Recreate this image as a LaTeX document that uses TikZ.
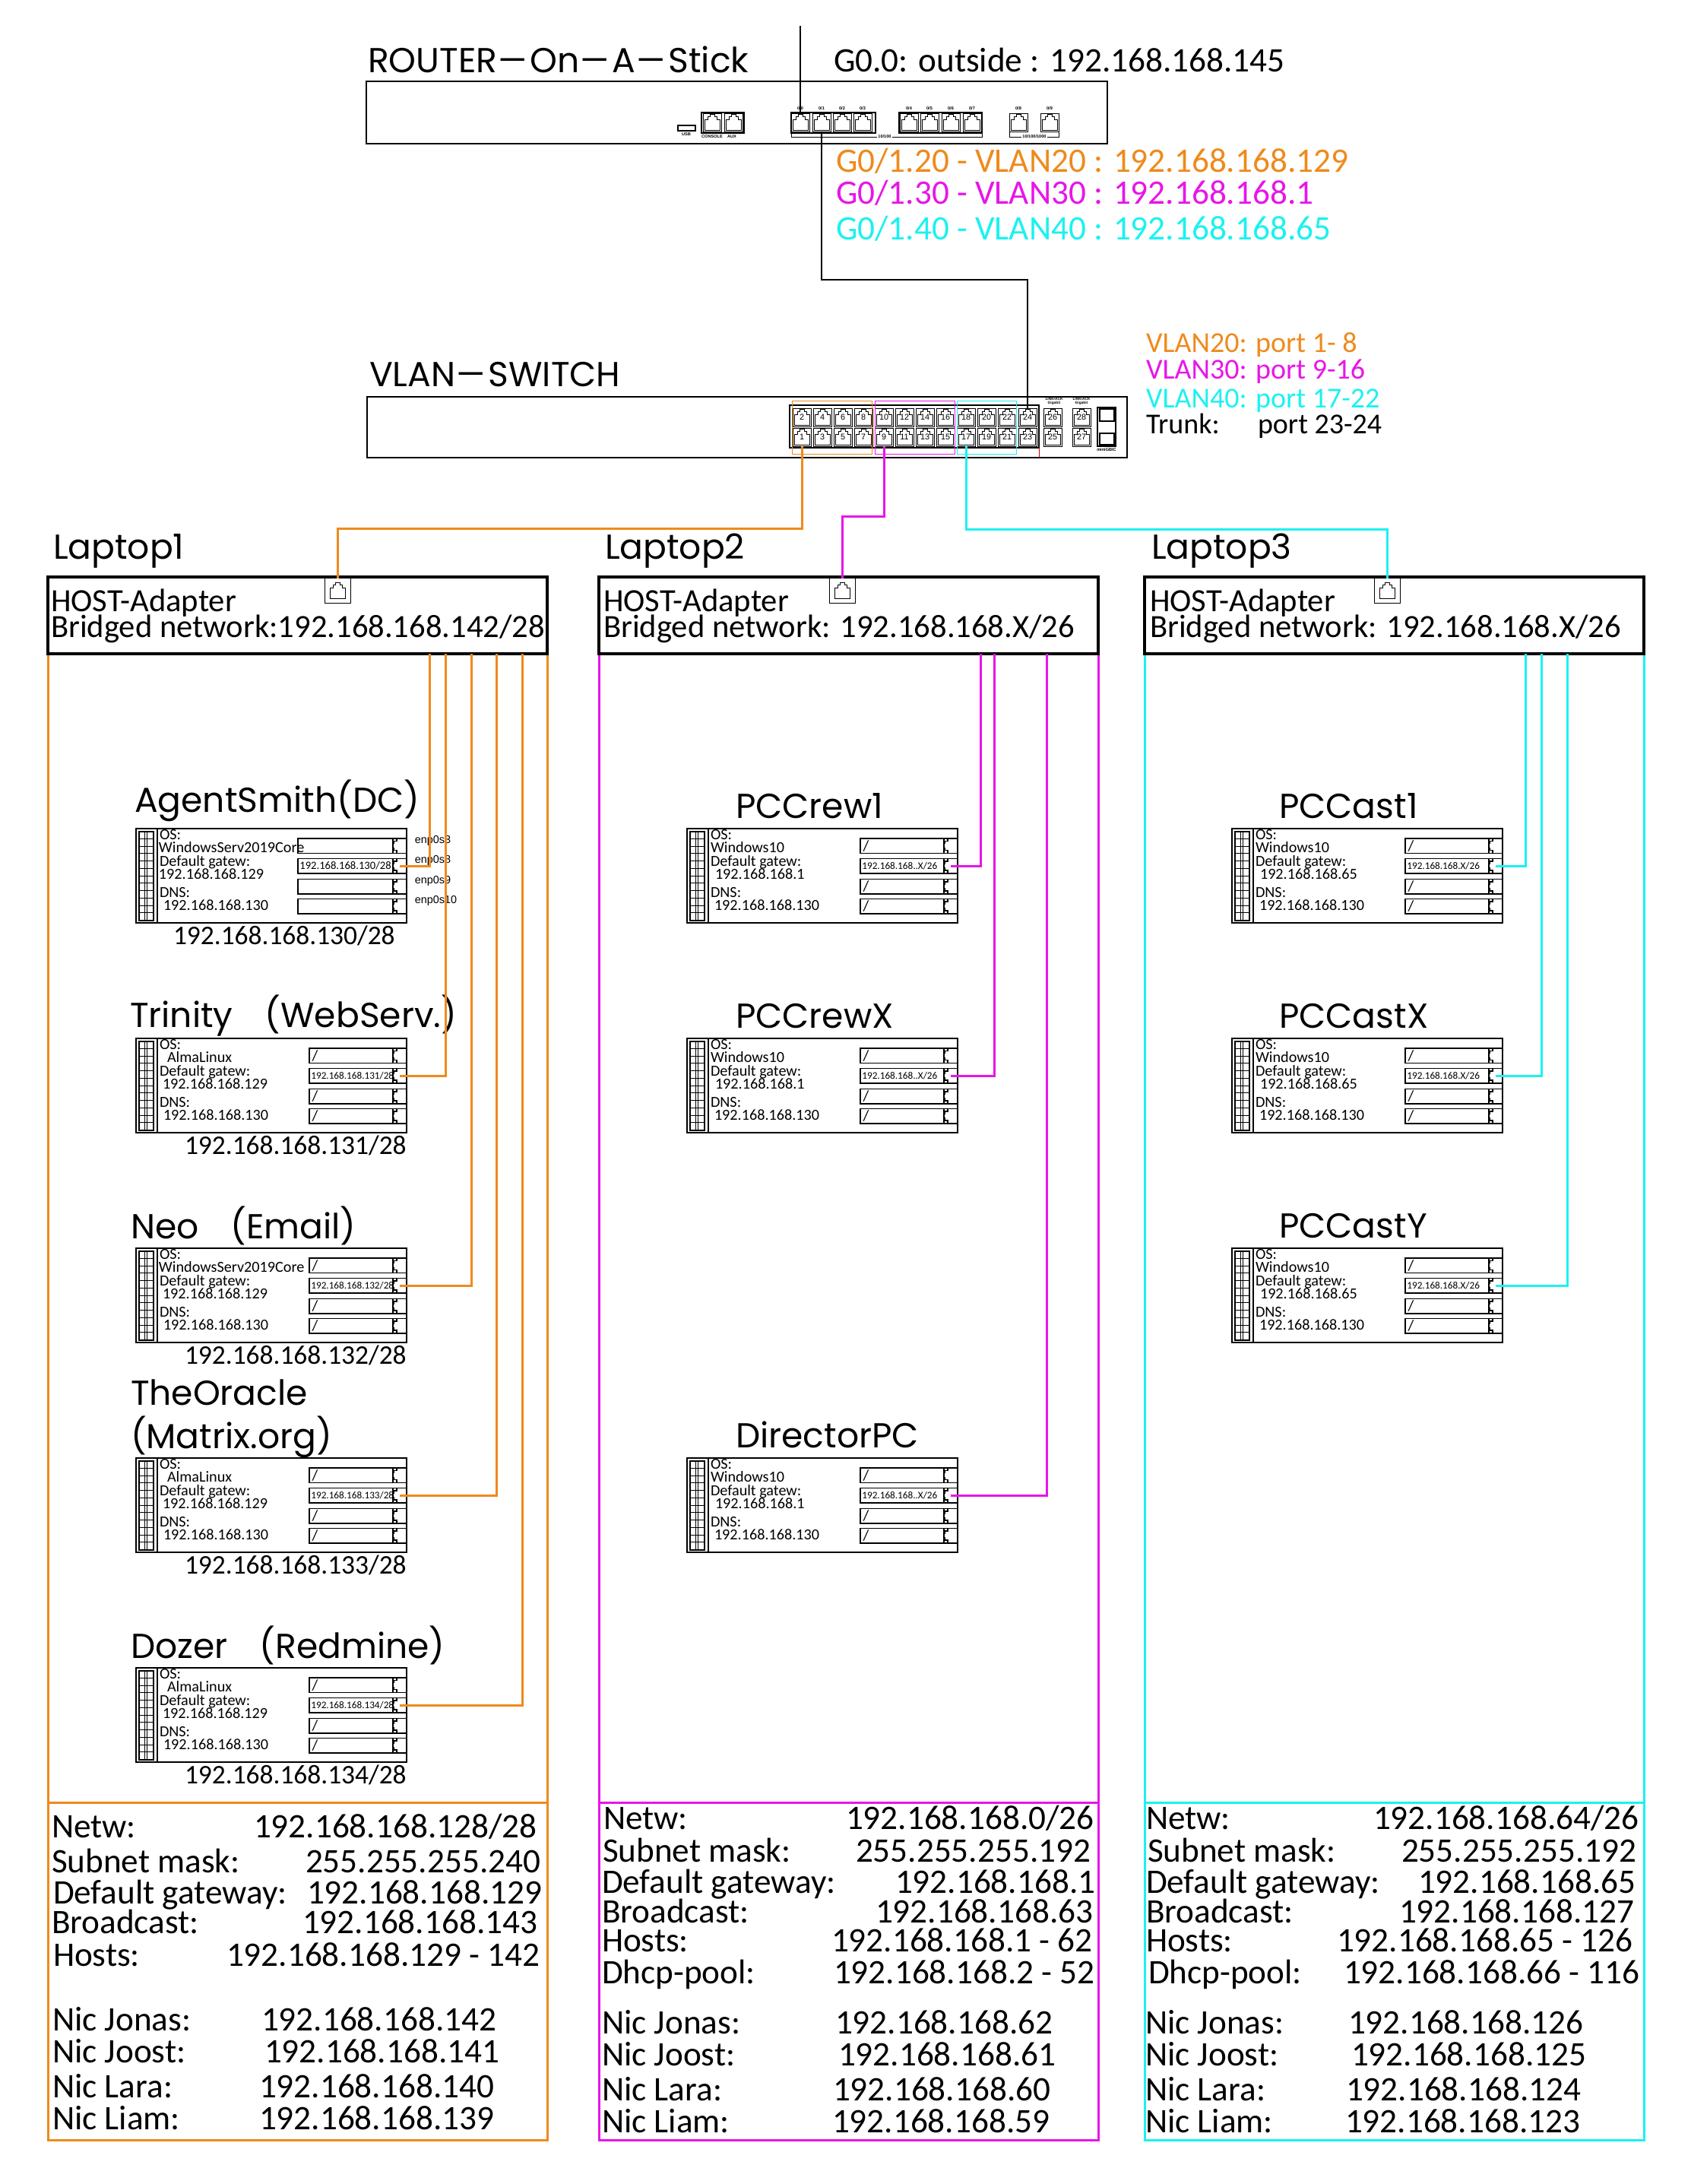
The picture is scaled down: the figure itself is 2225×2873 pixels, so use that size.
\documentclass[tikz,border=0pt]{standalone}
\usepackage{fontspec}
\usepackage{graphicx}
\setmainfont{Carlito}
\newfontfamily\titlefont{Poppins}
\newfontfamily\armfont{Liberation Sans}
\usetikzlibrary{positioning}
\definecolor{vlanorange}{HTML}{EE8A1D}
\definecolor{vlanmagenta}{HTML}{E716E8}
\definecolor{vlancyan}{HTML}{1CF1F1}
\newcommand{\fsz}[1]{\fontsize{#1}{#1}\selectfont}
\newcommand{\longhy}{\scalebox{1.72}[1]{-}}
\newcommand{\rjpath}{(path picture bounding box.center) ++(-10,10) -- ++(0,-14) -- ++(4,0) -- ++(0,-4) -- ++(3,0) -- ++(0,-3) -- ++(6,0) -- ++(0,3) -- ++(3,0) -- ++(0,4) -- ++(4,0) -- ++(0,14) -- cycle}
\newcommand{\rjsidepath}{(path picture bounding box.center) ++(10,-10) -- ++(-14,0) -- ++(0,4) -- ++(-4,0) -- ++(0,3) -- ++(-3,0) -- ++(0,6) -- ++(3,0) -- ++(0,3) -- ++(4,0) -- ++(0,4) -- ++(14,0) -- cycle}
\tikzset{
  txt/.style={anchor=base west, inner sep=0pt, outer sep=0pt},
  titletxt/.style={txt, font=\titlefont\fsz{11.4}},
  bigtxt/.style={txt, font=\fsz{11.3}},
  midtxt/.style={txt, font=\fsz{9.5}},
  hosttxt/.style={txt, font=\fsz{10.65}},
  iptxt/.style={txt, font=\fsz{8.85}},
  vmtxt/.style={txt, font=\fsz{5.05}},
  tinytxt/.style={inner sep=0pt, outer sep=0pt, font=\armfont\bfseries\fsz{1.4}},
  enptxt/.style={anchor=west, inner sep=0pt, font=\armfont\fsz{3.6}},
  blk/.style={draw, inner sep=0pt, outer sep=0pt, anchor=north west},
  devbox/.style={blk, line width=0.5pt},
  hostbox/.style={blk, line width=0.9pt},
  rjport/.style={draw, inner sep=0pt, outer sep=0pt, line width=0.2pt,
    minimum width=24*0.25pt, minimum height=24*0.25pt, font=\armfont\fsz{2.7},
    path picture={\draw[scale=#1, line width=0.25pt] \rjpath;}},
  rjside/.style={draw, inner sep=0pt, outer sep=0pt, line width=0.35pt, anchor=north east,
    minimum width=18*0.25pt, minimum height=19.5*0.25pt,
    path picture={\draw[scale=0.62, line width=0.3pt] \rjsidepath;}},
  vmfield/.style={draw, inner sep=0pt, outer sep=0pt, line width=0.4pt, anchor=north east,
    minimum height=19.5*0.25pt},
  vmstrip/.style={draw, inner sep=0pt, outer sep=0pt, line width=0.5pt, anchor=north west,
    minimum width=19*0.25pt, minimum height=117*0.25pt,
    path picture={
      \foreach \r in {1,...,11} \draw[line width=0.25pt] (path picture bounding box.north west) ++(0,\r*9.75) -- ++(19,0);
      \draw[line width=0.2pt] (path picture bounding box.north west) ++(8,0) -- ++(0,117) ++(3,-117) -- ++(0,117);
    }},
  wireorange/.style={draw=vlanorange, line width=0.75pt},
  wiremagenta/.style={draw=vlanmagenta, line width=0.75pt},
  wirecyan/.style={draw=vlancyan, line width=0.75pt},
  wireblack/.style={draw=black, line width=0.7pt}
}
% one virtual machine: id, x, y, field width, text x, os, gateway x, gateway, text of field 2
\newcommand{\vmblock}[9]{
  \node[devbox, line width=0.45pt, minimum width=356*0.25pt, minimum height=124*0.25pt] (#1) at (#2,#3) {};
  \node[vmstrip] (#1strip) at ({#2+3.5},{#3+3.5}) {};
  \draw[line width=0.35pt] ({#2+28},#3) coordinate (#1dt) -- (#1dt |- #1.south);
  \node[vmtxt] (#1a) at ({#2+31},{#3+14}) {OS:};
  \node[vmtxt] (#1b) at ({#2+#5},{#3+31}) {#6};
  \node[vmtxt] (#1c) at ({#2+31},{#3+49}) {Default gatew:};
  \node[vmtxt] (#1d) at ({#2+#7},{#3+66}) {#8};
  \node[vmtxt] (#1e) at ({#2+31},{#3+90}) {DNS:};
  \node[vmtxt] (#1g) at ({#2+36},{#3+107}) {192.168.168.130};
  \foreach \i/\dy in {1/13,2/39.3,3/66.3,4/92.3} {
    \node[vmfield, minimum width=#4*0.25pt] (#1f\i) at ({#2+356},{#3+\dy}) {};
    \node[rjside] (#1p\i) at ({#2+356},{#3+\dy}) {};
  }
  \node[anchor=west, inner sep=0pt, font=\fsz{3.3}] (#1ft) at ([xshift=0.4pt]#1f2.west) {#9};
}
\begin{document}
\begin{tikzpicture}[x=0.25pt, y=-0.25pt]
\useasboundingbox (0,0) rectangle (2225,2873);

% router
\node[devbox, line width=0.4pt, minimum width=975*0.25pt, minimum height=82*0.25pt] (router) at (482,107) {};
\node[titletxt] (routertitle) at (484,95) {ROUTER\longhy On\longhy A\longhy Stick};
\node[bigtxt] (outside) at (1097,94) {G0.0: outside : 192.168.168.145};
\node[bigtxt, text=vlanorange] (sub20) at (1100,226) {G0/1.20 - VLAN20 : 192.168.168.129};
\node[bigtxt, text=vlanmagenta] (sub30) at (1100,268) {G0/1.30 - VLAN30 : 192.168.168.1};
\node[bigtxt, text=vlancyan] (sub40) at (1100,315) {G0/1.40 - VLAN40 : 192.168.168.65};

\node[blk, line width=0.3pt, minimum width=23*0.25pt, minimum height=7*0.25pt] (usb) at (892,165) {};
\node[tinytxt] (usbtxt) at (903,177) {USB};
\node[blk, line width=0.3pt, minimum width=56*0.25pt, minimum height=27*0.25pt] (congroup) at (923,148) {};
\node[rjport=1] (con) at (937,161) {};
\node[rjport=1] (aux) at (965,161) {};
\node[tinytxt] (contxt) at (937,180) {CONSOLE};
\node[tinytxt] (auxtxt) at (963,180) {AUX};
\node[blk, line width=0.3pt, minimum width=111*0.25pt, minimum height=27*0.25pt] (groupa) at (1041,148) {};
\node[blk, line width=0.3pt, minimum width=109*0.25pt, minimum height=27*0.25pt] (groupb) at (1183,148) {};
\foreach \n/\xx in {0/1053,1/1081,2/1108,3/1135,4/1196,5/1223,6/1251,7/1279,8/1340,9/1381} {
  \node[rjport=1] (r\n) at (\xx,161) {};
  \node[tinytxt] (rtxt\n) at (\xx,143) {0/\n};
}
\node[tinytxt, fill=white, inner sep=0.3pt] (speeda) at (1164,180) {10/100};
\node[tinytxt, fill=white, inner sep=0.3pt] (speedb) at (1361,180) {10/100/1000};
\draw[line width=0.25pt] (groupa.south west) |- (speeda.west) (speeda.east) -| (groupb.south east);
\draw[line width=0.25pt] (r8.south west) |- (speedb.west) (speedb.east) -| (r9.south east);

% switch
\node[devbox, line width=0.4pt, minimum width=1000*0.25pt, minimum height=80*0.25pt] (switch) at (483,522) {};
\node[titletxt] (switchtitle) at (486,508) {VLAN\longhy SWITCH};
\node[blk, line width=0.3pt, minimum width=328*0.25pt, minimum height=56*0.25pt] (panel) at (1039,533) {};
\foreach \i in {0,...,11} {
  \pgfmathtruncatemacro{\up}{2*\i+2}
  \pgfmathtruncatemacro{\dn}{2*\i+1}
  \node[rjport=0.95] (sw\up) at ({1055+27*\i},549) {\up};
  \node[rjport=0.95] (sw\dn) at ({1055+27*\i},575) {\dn};
}
\foreach \n/\xx/\yy in {26/1385/549,28/1423/549,25/1385/575,27/1423/575}
  \node[rjport=0.95] (sw\n) at (\xx,\yy) {\n};
\node[tinytxt, align=center, font=\armfont\bfseries\fsz{1.2}] (linka) at (1387,528) {LINK/ACK\\Gigabit};
\node[tinytxt, align=center, font=\armfont\bfseries\fsz{1.2}] (linkb) at (1423,528) {LINK/ACK\\Gigabit};
\node[blk, line width=0.3pt, minimum width=24*0.25pt, minimum height=51*0.25pt] (gbic) at (1444,536) {};
\node[blk, line width=0.3pt, minimum width=19*0.25pt, minimum height=16*0.25pt] (gbica) at (1447,538) {};
\node[blk, line width=0.3pt, minimum width=19*0.25pt, minimum height=15*0.25pt] (gbicb) at (1447,570) {};
\node[tinytxt] (gbictxt) at (1456,591) {miniGBIC};
\draw[red!80!black, line width=0.2pt] (panel.south east) -- (panel.south east |- switch.south);
\node[blk, draw=vlanorange, line width=0.25pt, minimum width=105*0.25pt, minimum height=70*0.25pt] (range20) at (1042,527) {};
\node[blk, draw=vlanmagenta, line width=0.25pt, minimum width=105*0.25pt, minimum height=70*0.25pt] (range30) at (1151,527) {};
\node[blk, draw=vlancyan, line width=0.25pt, minimum width=78*0.25pt, minimum height=70*0.25pt] (range40) at (1259,527) {};
\node[midtxt, text=vlanorange] (port20) at (1508,463) {VLAN20: port 1- 8};
\node[midtxt, text=vlanmagenta] (port30) at (1508,498) {VLAN30: port 9-16};
\node[midtxt, text=vlancyan] (port40) at (1508,536) {VLAN40: port 17-22};
\node[midtxt] (trunk) at (1508,570) {Trunk:};
\node[midtxt] (trunkports) at (1655,570) {port 23-24};

% laptops
\node[titletxt] (laptopa) at (70,735) {Laptop1};
\node[titletxt] (laptopb) at (796,735) {Laptop2};
\node[titletxt] (laptopc) at (1515,735) {Laptop3};
\node[blk, draw=vlanorange, line width=0.75pt, minimum width=657*0.25pt, minimum height=1955*0.25pt] (bodya) at (63,860) {};
\node[blk, draw=vlanmagenta, line width=0.75pt, minimum width=657*0.25pt, minimum height=1955*0.25pt] (bodyb) at (788,860) {};
\node[blk, draw=vlancyan, line width=0.75pt, minimum width=657*0.25pt, minimum height=1955*0.25pt] (bodyc) at (1506,860) {};
\node[hostbox, minimum width=657*0.25pt, minimum height=101*0.25pt] (hosta) at (63,759) {};
\node[hostbox, minimum width=657*0.25pt, minimum height=101*0.25pt] (hostb) at (788,759) {};
\node[hostbox, minimum width=657*0.25pt, minimum height=101*0.25pt] (hostc) at (1506,759) {};
\node[rjport=1.3, minimum width=34*0.25pt, minimum height=33*0.25pt] (porta) at (444,777) {};
\node[rjport=1.3, minimum width=34*0.25pt, minimum height=33*0.25pt] (portb) at (1108,777) {};
\node[rjport=1.3, minimum width=34*0.25pt, minimum height=33*0.25pt] (portc) at (1825,777) {};
\node[hosttxt] (hostat) at (67,804) {HOST-Adapter};
\node[hosttxt] (hostas) at (67,838) {Bridged network:192.168.168.142/28};
\node[hosttxt] (hostbt) at (794,804) {HOST-Adapter};
\node[hosttxt] (hostbs) at (794,838) {Bridged network: 192.168.168.X/26};
\node[hosttxt] (hostct) at (1513,804) {HOST-Adapter};
\node[hosttxt] (hostcs) at (1513,838) {Bridged network: 192.168.168.X/26};

% machines
\node[titletxt] (smithtitle) at (177,1068) {AgentSmith(DC)};
\node[titletxt] (trinitytitle) at (171,1351) {Trinity\hspace{7.5pt} (WebServ.)};
\node[titletxt] (neotitle) at (172,1629) {Neo\hspace{7.5pt} (Email)};
\node[titletxt] (oracletitle) at (172,1848) {TheOracle};
\node[titletxt] (matrixtitle) at (172,1905) {(Matrix.org)};
\node[titletxt] (dozertitle) at (172,2181) {Dozer\hspace{7.5pt} (Redmine)};
\vmblock{smith}{179}{1090}{143}{30}{WindowsServ2019Core}{30}{192.168.168.129}{\fsz{3.65}192.168.168.130/28}
\vmblock{trinity}{179}{1366}{128}{41}{AlmaLinux}{35}{192.168.168.129}{192.168.168.131/28}
\vmblock{neo}{179}{1642}{128}{30}{WindowsServ2019Core}{35}{192.168.168.129}{192.168.168.132/28}
\vmblock{oracle}{179}{1918}{128}{41}{AlmaLinux}{35}{192.168.168.129}{192.168.168.133/28}
\vmblock{dozer}{179}{2194}{128}{41}{AlmaLinux}{35}{192.168.168.129}{192.168.168.134/28}
\foreach \id/\xx/\yy/\addr in {smith/228/1242/130,trinity/243/1518/131,neo/243/1794/132,oracle/243/2070/133,dozer/243/2346/134}
  \node[iptxt] (\id ip) at (\xx,\yy) {192.168.168.\addr/28};
\foreach \n/\yy in {3/1106,8/1132,9/1159,10/1185}
  \node[enptxt] (enp\n) at (545,\yy) {enp0s\n};

\node[titletxt] (crewatitle) at (968,1076) {PCCrew1};
\node[titletxt] (crewxtitle) at (968,1352) {PCCrewX};
\node[titletxt] (directortitle) at (968,1904) {DirectorPC};
\vmblock{crewa}{904}{1090}{128}{31}{Windows10}{37}{192.168.168.1}{192.168.168..X/26}
\vmblock{crewx}{904}{1366}{128}{31}{Windows10}{37}{192.168.168.1}{192.168.168..X/26}
\vmblock{director}{904}{1918}{128}{31}{Windows10}{37}{192.168.168.1}{192.168.168..X/26}

\node[titletxt] (castatitle) at (1683,1076) {PCCast1};
\node[titletxt] (castxtitle) at (1683,1352) {PCCastX};
\node[titletxt] (castytitle) at (1683,1628) {PCCastY};
\vmblock{casta}{1621}{1090}{128}{31}{Windows10}{37}{192.168.168.65}{192.168.168.X/26}
\vmblock{castx}{1621}{1366}{128}{31}{Windows10}{37}{192.168.168.65}{192.168.168.X/26}
\vmblock{casty}{1621}{1642}{128}{31}{Windows10}{37}{192.168.168.65}{192.168.168.X/26}

\foreach \id in {trinity,neo,oracle,dozer,crewa,crewx,director,casta,castx,casty}
  \foreach \i in {1,3,4}
    \node[anchor=west, inner sep=0pt, font=\fsz{5}] (\id s\i) at ([xshift=0.7pt]\id f\i.west) {/};

% network tables
\coordinate (cuta) at (63,2371);
\coordinate (cutb) at (788,2371);
\coordinate (cutc) at (1506,2371);
\draw[draw=vlanorange, line width=0.75pt] (cuta) -- (cuta -| bodya.east);
\draw[draw=vlanmagenta, line width=0.75pt] (cutb) -- (cutb -| bodyb.east);
\draw[draw=vlancyan, line width=0.75pt] (cutc) -- (cutc -| bodyc.east);
\foreach \n/\yy/\xl/\lab/\xv/\val in {
  1/2417/68/Netw:/334/192.168.168.128\slash 28,
  2/2463/68/Subnet mask:/402/255.255.255.240,
  3/2504/70/Default gateway:/404/192.168.168.129,
  4/2543/68/Broadcast:/398/192.168.168.143,
  5/2586/70/Hosts:/298/192.168.168.129 - 142,
  6/2671/69/Nic Jonas:/344/192.168.168.142,
  7/2713/69/Nic Joost:/348/192.168.168.141,
  8/2759/69/Nic Lara:/341/192.168.168.140,
  9/2801/69/Nic Liam:/341/192.168.168.139} {
  \node[bigtxt] (taba\n) at (\xl,\yy) {\lab};
  \node[bigtxt] (vala\n) at (\xv,\yy) {\val};
}
\foreach \n/\yy/\xl/\lab/\xv/\val in {
  1/2406/794/Netw:/1113/192.168.168.0\slash 26,
  2/2449/793/Subnet mask:/1126/255.255.255.192,
  3/2490/792/Default gateway:/1178/192.168.168.1,
  4/2529/792/Broadcast:/1152/192.168.168.63,
  5/2567/792/Hosts:/1094/192.168.168.1 - 62,
  6/2609/792/Dhcp-pool:/1097/192.168.168.2 - 52,
  7/2675/792/Nic Jonas:/1099/192.168.168.62,
  8/2717/792/Nic Joost:/1103/192.168.168.61,
  9/2763/792/Nic Lara:/1096/192.168.168.60,
  10/2805/792/Nic Liam:/1095/192.168.168.59} {
  \node[bigtxt] (tabb\n) at (\xl,\yy) {\lab};
  \node[bigtxt] (valb\n) at (\xv,\yy) {\val};
}
\foreach \n/\yy/\xl/\lab/\xv/\val in {
  1/2406/1508/Netw:/1807/192.168.168.64\slash 26,
  2/2449/1510/Subnet mask:/1844/255.255.255.192,
  3/2490/1508/Default gateway:/1866/192.168.168.65,
  4/2529/1508/Broadcast:/1841/192.168.168.127,
  5/2567/1508/Hosts:/1759/192.168.168.65 - 126,
  6/2609/1511/Dhcp-pool:/1768/192.168.168.66 - 116,
  7/2675/1507/Nic Jonas:/1774/192.168.168.126,
  8/2717/1507/Nic Joost:/1778/192.168.168.125,
  9/2763/1507/Nic Lara:/1771/192.168.168.124,
  10/2805/1507/Nic Liam:/1770/192.168.168.123} {
  \node[bigtxt] (tabc\n) at (\xl,\yy) {\lab};
  \node[bigtxt] (valc\n) at (\xv,\yy) {\val};
}

% wires
\coordinate (uplink) at (1053,34);
\coordinate (trunkbend) at (1200,368);
\coordinate (bendo) at (800,695);
\coordinate (bendm) at (1130,679);
\coordinate (bendc) at (1500,696);
\draw[wireblack] (uplink) -- (r0.north);
\draw[wireblack] (r1.south) |- (trunkbend) -| (sw24.north);
\draw[wireorange] (sw1.south) |- (bendo) -| (porta.north);
\draw[wiremagenta] (sw9.south) |- (bendm) -| (portb.north);
\draw[wirecyan] (sw17.south) |- (bendc) -| (portc.north);
\foreach \id/\xx/\col in {smith/565/orange,trinity/586/orange,neo/620/orange,oracle/653.5/orange,dozer/687.5/orange,
    crewa/1290/magenta,crewx/1308/magenta,director/1377/magenta,
    casta/2007/cyan,castx/2028/cyan,casty/2062/cyan} {
  \coordinate (\id tap) at (\xx,860);
  \draw[wire\col] (\id tap) |- (\id p2.center);
}
\end{tikzpicture}
\end{document}
